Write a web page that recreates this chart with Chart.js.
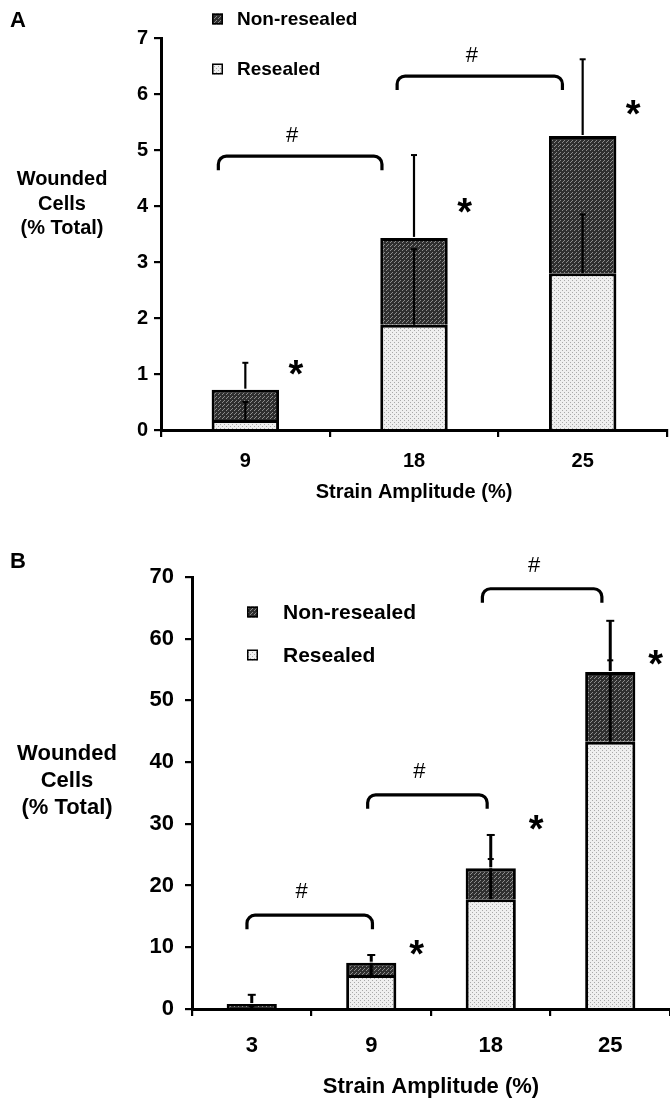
<!DOCTYPE html>
<html><head><meta charset="utf-8">
<script src="https://cdn.jsdelivr.net/npm/chart.js@4.4.1/dist/chart.umd.min.js"></script>
<style>
html,body{margin:0;padding:0;background:#fff}
body{width:670px;height:1098px;position:relative;overflow:hidden;font-family:"Liberation Sans",Arial,sans-serif;color:#000}
canvas{position:absolute;left:0}
.t{position:absolute;font-weight:bold;white-space:nowrap;text-align:center}
</style></head><body>
<canvas id="ca" width="670" height="504" style="top:0"></canvas>
<canvas id="cb" width="670" height="560" style="top:540px"></canvas>
<div class="t" style="left:10px;top:8px;font-size:22px;line-height:24px">A</div>
<div class="t" style="left:10px;top:549px;font-size:22px;line-height:24px">B</div>
<div class="t" style="left:0;width:124px;top:166px;font-size:20px;line-height:24.5px">Wounded<br>Cells<br>(% Total)</div>
<div class="t" style="left:0;width:134px;top:739px;font-size:22px;line-height:27px">Wounded<br>Cells<br>(% Total)</div>
<script>
// ---------- DATA ----------
const categoriesA = ['9', '18', '25'];
const resealedA = [0.18, 1.88, 2.80];
const nonResealedA = [0.54, 1.55, 2.45];
const totalErrA = [0.48, 1.48, 1.37];
const resealedErrA = [0.32, 1.35, 1.05];
const bracketsA = [[0, 1, 4.89], [1, 2, 6.32]];
const starsA = [[0, 1.16], [1, 4.05], [2, 5.8]];

const categoriesB = ['3', '9', '18', '25'];
const resealedB = [0.15, 5.5, 17.8, 43.3];
const nonResealedB = [0.65, 2.0, 5.0, 11.3];
const totalErrB = [1.5, 1.25, 5.4, 8.3];
const resealedErrB = [0.3, 2.0, 6.5, 13.2];
const bracketsB = [[0, 1, 15.2], [1, 2, 34.7], [2, 3, 68.1]];
const starsB = [[1, 10.4], [2, 30.6], [3, 57.4]];

const seriesLabels = ['Resealed', 'Non-resealed'];

// ---------- STYLE ----------
function pattern(base, dot, size, pts) {
  const c = document.createElement('canvas'); c.width = c.height = size;
  const g = c.getContext('2d'); g.fillStyle = base; g.fillRect(0, 0, size, size);
  g.fillStyle = dot; pts.forEach(([a, b]) => g.fillRect(a, b, 1, 1));
  return g.createPattern(c, 'repeat');
}
const darkFill = pattern('#2f2f2f', '#8c8c8c', 4, [[0, 0], [2, 2], [3, 1]]);
const lightFill = pattern('#efefef', '#a9a9a9', 4, [[0, 0], [2, 2]]);
const FONT = '"Liberation Sans", Arial, sans-serif';

const annot = {
  id: 'annot',
  afterDatasetsDraw(chart, args, o) {
    const { ctx } = chart; const x = chart.scales.x, y = chart.scales.y;
    const res = chart.data.datasets[0].data, non = chart.data.datasets[1].data;
    ctx.save();
    ctx.lineCap = 'butt';
    res.forEach((r, i) => {
      const cx = x.getPixelForValue(i);
      const tot = r + non[i];
      const rTop = r + o.errR[i];
      const inTop = Math.min(rTop, tot);
      ctx.strokeStyle = '#000'; ctx.lineWidth = o.errW;
      ctx.beginPath(); ctx.moveTo(cx, y.getPixelForValue(r)); ctx.lineTo(cx, y.getPixelForValue(inTop)); ctx.stroke();
      if (rTop < tot) {
        ctx.lineWidth = 2;
        ctx.beginPath(); ctx.moveTo(cx - 3, y.getPixelForValue(rTop)); ctx.lineTo(cx + 3, y.getPixelForValue(rTop)); ctx.stroke();
      }
      const tTop = tot + o.errT[i];
      ctx.lineWidth = o.errW;
      ctx.beginPath(); ctx.moveTo(cx, y.getPixelForValue(tot) - 1); ctx.lineTo(cx, y.getPixelForValue(tTop)); ctx.stroke();
      ctx.lineWidth = 2;
      ctx.beginPath(); ctx.moveTo(cx - o.cap, y.getPixelForValue(tTop)); ctx.lineTo(cx + o.cap, y.getPixelForValue(tTop)); ctx.stroke();
      if (rTop > tot) {
        ctx.beginPath(); ctx.moveTo(cx - 3, y.getPixelForValue(rTop)); ctx.lineTo(cx + 3, y.getPixelForValue(rTop)); ctx.stroke();
      }
    });
    ctx.strokeStyle = '#000'; ctx.lineWidth = 3.2; ctx.fillStyle = '#000';
    o.brackets.forEach(([a, b, v], k) => {
      const off = o.bracketOff[k];
      const x1 = x.getPixelForValue(a + off[0]), x2 = x.getPixelForValue(b + off[1]);
      const yy = y.getPixelForValue(v), r = 8, h = o.hook;
      ctx.beginPath();
      ctx.moveTo(x1, yy + h);
      ctx.arcTo(x1, yy, x1 + r, yy, r);
      ctx.lineTo(x2 - r, yy);
      ctx.arcTo(x2, yy, x2, yy + h, r);
      ctx.lineTo(x2, yy + h);
      ctx.stroke();
      ctx.font = o.hashFont; ctx.textAlign = 'center'; ctx.textBaseline = 'alphabetic';
      ctx.fillText('#', (x1 + x2) / 2 - o.hashDx, yy - o.hashGap);
    });
    ctx.font = o.starFont; ctx.textAlign = 'center'; ctx.textBaseline = 'alphabetic';
    o.stars.forEach(([c, v]) => {
      ctx.fillText('*', x.getPixelForValue(c + o.starDx), y.getPixelForValue(v) + o.starBase);
    });
    const lg = o.legend;
    [[1, lg.y1], [0, lg.y2]].forEach(([di, ly]) => {
      const ds = chart.data.datasets[di];
      ctx.fillStyle = ds.backgroundColor; ctx.fillRect(lg.x, ly - lg.s / 2, lg.s, lg.s);
      ctx.strokeStyle = '#000'; ctx.lineWidth = 1.5; ctx.strokeRect(lg.x + 0.75, ly - lg.s / 2 + 0.75, lg.s - 1.5, lg.s - 1.5);
      ctx.fillStyle = '#000'; ctx.font = lg.font; ctx.textAlign = 'left'; ctx.textBaseline = 'middle';
      ctx.fillText(ds.label, lg.tx, ly + 1);
    });
    ctx.restore();
  }
};

function makeChart(id, cats, res, non, errT, errR, yMax, yStep, s) {
  return new Chart(document.getElementById(id), {
    type: 'bar',
    data: {
      labels: cats,
      datasets: [
        { label: seriesLabels[0], data: res, backgroundColor: lightFill, borderColor: '#000', borderWidth: 3, borderSkipped: 'bottom' },
        { label: seriesLabels[1], data: non, backgroundColor: darkFill, borderColor: '#000', borderWidth: 3, borderSkipped: 'bottom' }
      ]
    },
    options: {
      responsive: false, animation: false, devicePixelRatio: 1,
      events: [],
      layout: { padding: s.pad },
      datasets: { bar: { barPercentage: s.barPct, categoryPercentage: 1 } },
      plugins: {
        legend: { display: false }, tooltip: { enabled: false },
        annot: { errT, errR, errW: s.errW, cap: s.cap, brackets: s.brackets, bracketOff: s.bracketOff, stars: s.stars, starDx: s.starDx,
          starFont: s.starFont, starBase: s.starBase, hashFont: s.hashFont, hashDx: s.hashDx, hashGap: s.hashGap, hook: s.hook,
          legend: s.legend }
      },
      scales: {
        x: {
          stacked: true,
          grid: { display: true, drawOnChartArea: false, drawTicks: true, tickLength: 7, lineWidth: 2.2, color: '#000', offset: true },
          border: { display: true, color: '#000', width: 3 },
          ticks: { color: '#000', font: { family: FONT, size: s.fs, weight: 'bold' }, padding: s.xPad, maxRotation: 0 },
          title: { display: true, text: 'Strain Amplitude (%)', color: '#000', font: { family: FONT, size: s.fs, weight: 'bold' }, padding: { top: 4, bottom: 0 } },
          afterFit: (sc) => { sc.height = s.xH; }
        },
        y: {
          stacked: true, min: 0, max: yMax,
          grid: { display: true, drawOnChartArea: false, drawTicks: true, tickLength: 7, lineWidth: 2.2, color: '#000' },
          border: { display: true, color: '#000', width: 3 },
          ticks: { stepSize: yStep, color: '#000', font: { family: FONT, size: s.fs, weight: 'bold' }, padding: s.yPad },
          afterFit: (sc) => { sc.width = s.yW; }
        }
      }
    },
    plugins: [annot]
  });
}

makeChart('ca', categoriesA, resealedA, nonResealedA, totalErrA, resealedErrA, 7, 1, {
  pad: { top: 38, right: 3, left: 0, bottom: 0 }, xH: 74, yW: 161, barPct: 0.40, fs: 20, xPad: 12, yPad: 6,
  errW: 2.2, cap: 3,
  brackets: bracketsA, bracketOff: [[-0.16, -0.19], [-0.10, -0.12]], hook: 14, hashFont: '22px ' + FONT, hashDx: 8, hashGap: 14,
  stars: starsA, starDx: 0.30, starFont: 'bold 38px ' + FONT, starBase: 22,
  legend: { x: 212, s: 11, y1: 19, y2: 69, tx: 237, font: 'bold 19px ' + FONT }
});
makeChart('cb', categoriesB, resealedB, nonResealedB, totalErrB, resealedErrB, 70, 10, {
  pad: { top: 37, right: 0, left: 0, bottom: 0 }, xH: 91, yW: 192, barPct: 0.42, fs: 22, xPad: 17, yPad: 11,
  errW: 3, cap: 4,
  brackets: bracketsB, bracketOff: [[-0.04, 0.01], [-0.03, -0.03], [-0.07, -0.07]], hook: 14, hashFont: '22px ' + FONT, hashDx: 8, hashGap: 17,
  stars: starsB, starDx: 0.38, starFont: 'bold 38px ' + FONT, starBase: 22,
  legend: { x: 247, s: 11, y1: 72, y2: 115, tx: 283, font: 'bold 21px ' + FONT }
});
</script>
</body></html>
